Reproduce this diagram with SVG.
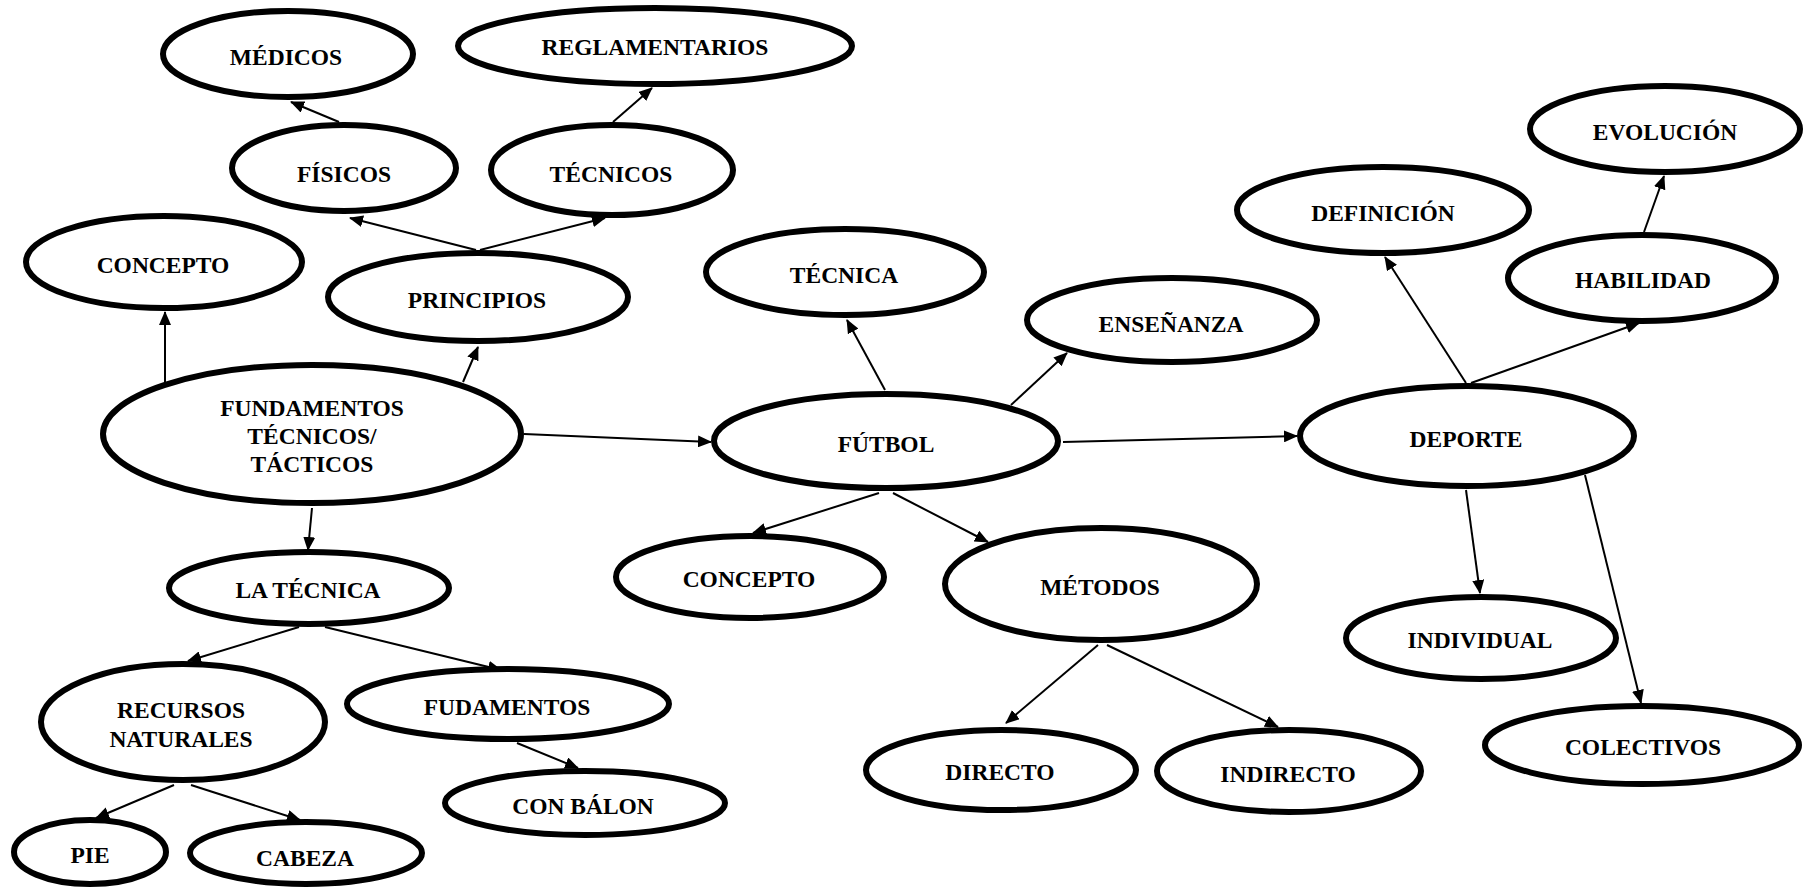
<svg xmlns="http://www.w3.org/2000/svg" width="1806" height="890" viewBox="0 0 1806 890">
<defs>
<marker id="arr" markerUnits="userSpaceOnUse" markerWidth="14" markerHeight="12" refX="13" refY="6" orient="auto">
<path d="M0,0 L14,6 L0,12 z" fill="#000"/>
</marker>
<style>
.n ellipse{fill:#fff;stroke:#000;stroke-width:6}
.n text{font-family:"Liberation Serif","Times New Roman",serif;font-weight:bold;font-size:23.5px;text-anchor:middle;fill:#000}
#edges line{stroke:#000;stroke-width:2;marker-end:url(#arr)}
</style>
</defs>
<rect width="1806" height="890" fill="#fff"/>
<g id="edges">
<line x1="339" y1="122" x2="291" y2="102"/>
<line x1="613" y1="122" x2="652" y2="88"/>
<line x1="476" y1="250" x2="350" y2="218"/>
<line x1="480" y1="250" x2="605" y2="218"/>
<line x1="165" y1="382" x2="165" y2="312"/>
<line x1="463" y1="382" x2="478" y2="347"/>
<line x1="524" y1="434" x2="711" y2="442"/>
<line x1="312" y1="508" x2="308" y2="550"/>
<line x1="885" y1="390" x2="847" y2="320"/>
<line x1="1011" y1="405" x2="1067" y2="353"/>
<line x1="1063" y1="442" x2="1297" y2="436"/>
<line x1="879" y1="493" x2="753" y2="533"/>
<line x1="893" y1="493" x2="988" y2="542"/>
<line x1="1466" y1="383" x2="1385" y2="257"/>
<line x1="1471" y1="383" x2="1639" y2="323"/>
<line x1="1644" y1="232" x2="1664" y2="176"/>
<line x1="1466" y1="490" x2="1480" y2="593"/>
<line x1="1585" y1="475" x2="1641" y2="703"/>
<line x1="299" y1="627" x2="188" y2="661"/>
<line x1="325" y1="627" x2="501" y2="670"/>
<line x1="517" y1="743" x2="578" y2="768"/>
<line x1="174" y1="785" x2="96" y2="818"/>
<line x1="191" y1="785" x2="300" y2="820"/>
<line x1="1098" y1="645" x2="1006" y2="723"/>
<line x1="1107" y1="645" x2="1278" y2="727"/>
</g>
<g id="medicos" class="n"><ellipse cx="288" cy="54" rx="125" ry="43"/><text x="286" y="65">MÉDICOS</text></g>
<g id="reglamentarios" class="n"><ellipse cx="655" cy="46" rx="197" ry="38"/><text x="655" y="55">REGLAMENTARIOS</text></g>
<g id="fisicos" class="n"><ellipse cx="344" cy="168" rx="112" ry="43"/><text x="344" y="182">FÍSICOS</text></g>
<g id="tecnicos" class="n"><ellipse cx="612" cy="170" rx="121" ry="45"/><text x="611" y="182">TÉCNICOS</text></g>
<g id="concepto1" class="n"><ellipse cx="164" cy="262" rx="138" ry="46"/><text x="163" y="273">CONCEPTO</text></g>
<g id="principios" class="n"><ellipse cx="478" cy="297" rx="150" ry="44"/><text x="477" y="308">PRINCIPIOS</text></g>
<g id="fundamentos" class="n"><ellipse cx="312" cy="434" rx="209" ry="69"/><text x="312" y="416">FUNDAMENTOS</text><text x="312" y="444">TÉCNICOS/</text><text x="312" y="472">TÁCTICOS</text></g>
<g id="tecnica" class="n"><ellipse cx="845" cy="272" rx="139" ry="43"/><text x="844" y="283">TÉCNICA</text></g>
<g id="ensenanza" class="n"><ellipse cx="1172" cy="320" rx="145" ry="42"/><text x="1171" y="332">ENSEÑANZA</text></g>
<g id="futbol" class="n"><ellipse cx="886" cy="441" rx="172" ry="47"/><text x="886" y="452">FÚTBOL</text></g>
<g id="deporte" class="n"><ellipse cx="1467" cy="436" rx="167" ry="50"/><text x="1466" y="447">DEPORTE</text></g>
<g id="definicion" class="n"><ellipse cx="1383" cy="210" rx="146" ry="43"/><text x="1383" y="221">DEFINICIÓN</text></g>
<g id="evolucion" class="n"><ellipse cx="1665" cy="129" rx="135" ry="43"/><text x="1665" y="140">EVOLUCIÓN</text></g>
<g id="habilidad" class="n"><ellipse cx="1642" cy="278" rx="134" ry="43"/><text x="1643" y="288">HABILIDAD</text></g>
<g id="latecnica" class="n"><ellipse cx="309" cy="588" rx="140" ry="36"/><text x="308" y="598">LA TÉCNICA</text></g>
<g id="concepto2" class="n"><ellipse cx="750" cy="577" rx="134" ry="41"/><text x="749" y="587">CONCEPTO</text></g>
<g id="metodos" class="n"><ellipse cx="1101" cy="584" rx="156" ry="56"/><text x="1100" y="595">MÉTODOS</text></g>
<g id="recursos" class="n"><ellipse cx="183" cy="722" rx="142" ry="58"/><text x="181" y="718">RECURSOS</text><text x="181" y="747">NATURALES</text></g>
<g id="fudamentos" class="n"><ellipse cx="508" cy="704" rx="161" ry="35"/><text x="507" y="715">FUDAMENTOS</text></g>
<g id="conbalon" class="n"><ellipse cx="585" cy="803" rx="140" ry="32"/><text x="583" y="814">CON BÁLON</text></g>
<g id="pie" class="n"><ellipse cx="90" cy="852" rx="76" ry="32"/><text x="90" y="863">PIE</text></g>
<g id="cabeza" class="n"><ellipse cx="306" cy="853" rx="116" ry="31"/><text x="305" y="866">CABEZA</text></g>
<g id="directo" class="n"><ellipse cx="1001" cy="770" rx="135" ry="40"/><text x="1000" y="780">DIRECTO</text></g>
<g id="indirecto" class="n"><ellipse cx="1289" cy="771" rx="132" ry="41"/><text x="1288" y="782">INDIRECTO</text></g>
<g id="individual" class="n"><ellipse cx="1481" cy="638" rx="135" ry="41"/><text x="1480" y="648">INDIVIDUAL</text></g>
<g id="colectivos" class="n"><ellipse cx="1642" cy="745" rx="157" ry="39"/><text x="1643" y="755">COLECTIVOS</text></g>
</svg>
